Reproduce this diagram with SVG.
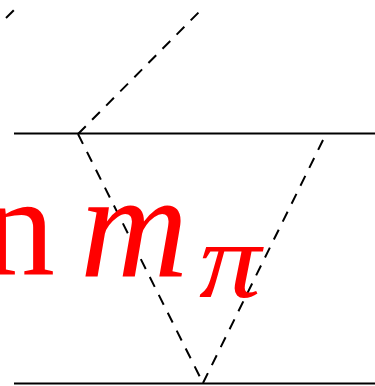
<svg xmlns="http://www.w3.org/2000/svg" width="375" height="386" viewBox="0 0 375 386">
<style>
.solid{stroke:#000;stroke-width:2;fill:none}
.dash{stroke:#000;stroke-width:2;fill:none;stroke-dasharray:11,9}
.lab{fill:#ff0000;font-family:"Liberation Serif",serif}
</style>
<rect width="375" height="386" fill="#fff"/>
<g id="connectors">
<line class="solid" x1="14" y1="133.5" x2="375" y2="133.5"/>
<line class="solid" x1="14" y1="383.5" x2="375" y2="383.5"/>
<line class="dash" x1="78" y1="134" x2="201" y2="10"/>
<line class="dash" x1="6" y1="18" x2="14" y2="10" stroke-dasharray="none"/>
<line class="dash" x1="78" y1="134" x2="203" y2="383"/>
<line class="dash" x1="203" y1="383" x2="326" y2="134"/>
</g>
<g id="label">
<text class="lab" x="-17" y="275" font-size="144">n</text>
<text class="lab" x="80" y="276" font-size="150" font-style="italic">m</text>
<text class="lab" x="199" y="297" font-size="108" font-style="italic" textLength="62" lengthAdjust="spacingAndGlyphs">π</text>
</g>
</svg>
